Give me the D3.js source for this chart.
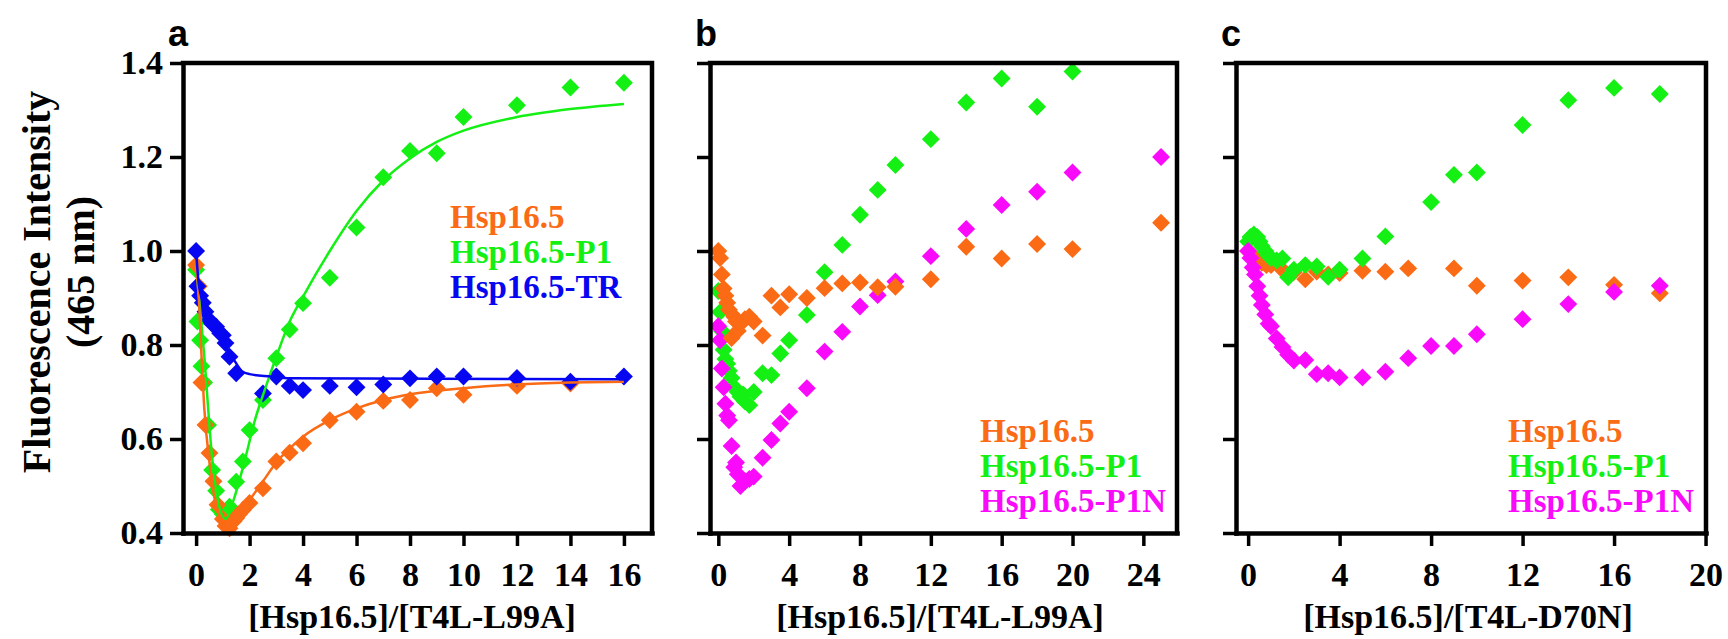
<!DOCTYPE html>
<html lang="en">
<head>
<meta charset="UTF-8">
<title>Hsp16.5 fluorescence titrations</title>
<script src="https://d3js.org/d3.v7.min.js"></script>
<style>
  body { margin: 0; background: #fff; }
  svg { display: block; }
</style>
</head>
<body>
<svg id="chart" width="1728" height="639"></svg>
<script>
// ---- data: [ratio, fluorescence] ----
const yTicks = [0.4, 0.6, 0.8, 1.0, 1.2, 1.4];
const xTicksA = [0, 2, 4, 6, 8, 10, 12, 14, 16];
const xTicksB = [0, 4, 8, 12, 16, 20, 24];
const xTicksC = [0, 4, 8, 12, 16, 20];

const panelLetters = ['a', 'b', 'c'];
const xTitles = ['[Hsp16.5]/[T4L-L99A]', '[Hsp16.5]/[T4L-L99A]', '[Hsp16.5]/[T4L-D70N]'];
const legendA = ['Hsp16.5', 'Hsp16.5-P1', 'Hsp16.5-TR'];
const legendBC = ['Hsp16.5', 'Hsp16.5-P1', 'Hsp16.5-P1N'];

// panel a
const aHsp = [[0,0.97],[0.1,0.925],[0.2,0.72],[0.35,0.63],[0.5,0.57],[0.65,0.51],[0.8,0.46],[1.0,0.43],[1.1,0.415],
  [1.25,0.41],[1.4,0.425],[1.5,0.432],[1.6,0.44],[1.75,0.449],[2,0.464],[2.5,0.495],[3,0.552],[3.5,0.571],[4,0.591],
  [5,0.64],[6,0.658],[7,0.681],[8,0.683],[9,0.708],[10,0.694],[12,0.713],[14,0.718]];
const aP1 = [[0,0.96],[0.05,0.85],[0.15,0.81],[0.2,0.755],[0.3,0.72],[0.45,0.63],[0.6,0.534],[0.75,0.49],[0.85,0.45],
  [1.0,0.44],[1.25,0.456],[1.5,0.509],[1.75,0.552],[2,0.619],[2.5,0.683],[3,0.772],[3.5,0.833],[4,0.889],[5,0.943],
  [6,1.05],[7,1.157],[8,1.213],[9,1.208],[10,1.285],[12,1.31],[14,1.348],[16,1.358]];
const aTR = [[0,1.0],[0.05,0.925],[0.15,0.905],[0.25,0.89],[0.35,0.871],[0.5,0.853],[0.6,0.845],[0.75,0.839],[0.9,0.825],
  [1.0,0.821],[1.1,0.804],[1.25,0.775],[1.5,0.74],[2.5,0.697],[3,0.733],[3.5,0.713],[4,0.704],[5,0.713],[6,0.71],
  [7,0.716],[8,0.729],[9,0.733],[10,0.733],[12,0.73],[14,0.722],[16,0.733]];
// fitted curves in panel a
const aHspFit = [[0,0.97],[0.1,0.9],[0.2,0.78],[0.3,0.67],[0.5,0.55],[0.7,0.47],[0.9,0.43],[1.1,0.415],[1.3,0.415],
  [1.6,0.44],[2,0.47],[2.5,0.51],[3,0.55],[3.5,0.58],[4,0.605],[5,0.64],[6,0.665],[7,0.683],[8,0.695],[10,0.708],
  [12,0.716],[14,0.72],[16,0.722]];
const aP1Fit = [[0,0.97],[0.3,0.78],[0.6,0.56],[0.9,0.45],[1.1,0.43],[1.4,0.47],[1.8,0.55],[2.2,0.64],[2.6,0.71],
  [3,0.775],[3.5,0.85],[4,0.903],[5,1.0],[6,1.085],[7,1.15],[8,1.197],[9,1.232],[10,1.256],[12,1.285],[14,1.302],[16,1.313]];
const aTRFit = [[0,1.0],[0.1,0.93],[0.3,0.885],[0.6,0.85],[1.0,0.805],[1.4,0.77],[1.7,0.745],[2.0,0.738],[2.8,0.733],
  [3.5,0.729],[16,0.727]];

// panel b
const bHsp = [[0,1.0],[0.1,0.985],[0.2,0.95],[0.3,0.92],[0.4,0.905],[0.5,0.89],[0.6,0.875],[0.75,0.815],[0.9,0.86],
  [1.0,0.85],[1.1,0.83],[1.25,0.845],[1.5,0.855],[1.75,0.86],[2,0.85],[2.5,0.82],[3,0.905],[3.5,0.88],[4,0.908],
  [5,0.9],[6,0.921],[7,0.931],[8,0.933],[9,0.923],[10,0.924],[12,0.94],[14,1.009],[16,0.984],[18,1.015],[20,1.004],[25,1.06]];
const bP1 = [[0,0.915],[0.1,0.87],[0.2,0.83],[0.3,0.79],[0.4,0.77],[0.5,0.76],[0.6,0.745],[0.75,0.73],[0.9,0.71],
  [1.0,0.705],[1.1,0.7],[1.25,0.69],[1.4,0.695],[1.5,0.68],[1.75,0.672],[2,0.7],[2.5,0.74],[3,0.736],[3.5,0.782],
  [4,0.81],[5,0.864],[6,0.955],[7,1.013],[8,1.077],[9,1.13],[10,1.183],[12,1.238],[14,1.316],[16,1.367],[18,1.307],[20,1.382]];
const bP1N = [[0,0.84],[0.1,0.81],[0.2,0.75],[0.3,0.71],[0.4,0.675],[0.5,0.65],[0.6,0.64],[0.75,0.585],[0.9,0.54],
  [1.0,0.55],[1.1,0.525],[1.25,0.5],[1.5,0.51],[1.75,0.515],[2,0.52],[2.5,0.56],[3,0.598],[3.5,0.633],[4,0.658],
  [5,0.708],[6,0.786],[7,0.828],[8,0.882],[9,0.906],[10,0.935],[12,0.989],[14,1.047],[16,1.098],[18,1.126],[20,1.167],[25,1.2]];

// panel c
const cHsp = [[0,1.0],[0.2,0.99],[0.4,0.98],[0.6,0.975],[0.8,0.97],[1.0,0.97],[1.5,0.96],[2,0.955],[2.5,0.94],[3,0.956],
  [3.5,0.95],[4,0.953],[5,0.958],[6,0.956],[7,0.963],[9,0.963],[10,0.926],[12,0.937],[14,0.944],[16,0.928],[18,0.91]];
const cP1 = [[0,1.02],[0.1,1.03],[0.25,1.035],[0.4,1.03],[0.5,1.02],[0.6,1.01],[0.75,1.0],[0.9,0.99],[1.0,0.985],
  [1.25,0.98],[1.5,0.984],[1.75,0.944],[2,0.96],[2.5,0.97],[3,0.967],[3.5,0.945],[4,0.96],[5,0.984],[6,1.031],
  [8,1.104],[9,1.162],[10,1.167],[12,1.268],[14,1.321],[16,1.347],[18,1.334]];
const cP1N = [[0,1.0],[0.1,0.985],[0.2,0.965],[0.3,0.95],[0.4,0.925],[0.5,0.905],[0.6,0.885],[0.75,0.865],[0.9,0.845],
  [1.0,0.84],[1.25,0.814],[1.5,0.796],[1.75,0.779],[2,0.767],[2.5,0.768],[3,0.738],[3.5,0.74],[4,0.731],[5,0.731],
  [6,0.743],[7,0.772],[8,0.798],[9,0.798],[10,0.823],[12,0.855],[14,0.887],[16,0.913],[18,0.926]];

// colours
const ORANGE = '#fb6a14', GREEN = '#14f014', BLUE = '#0606f0', MAGENTA = '#fa0afa';
const serif = "'Liberation Serif','Times New Roman',serif";
const sans = "'Liberation Sans',Arial,sans-serif";

// layout of the three panels
const plotTop = 63, plotBottom = 533;
const panels = [
  { left: 183, right: 652, xDom: [-0.49, 17.05], ticks: xTicksA, letterX: 168, titleX: 412, labels: true,
    legend: legendA, legendColors: [ORANGE, GREEN, BLUE], legX: 450, legY: 228,
    series: [[aP1, GREEN], [aHsp, ORANGE], [aTR, BLUE]],
    fits: [[aP1Fit, GREEN], [aHspFit, ORANGE], [aTRFit, BLUE]] },
  { left: 710, right: 1177, xDom: [-0.47, 25.9], ticks: xTicksB, letterX: 695, titleX: 940, labels: false,
    legend: legendBC, legendColors: [ORANGE, GREEN, MAGENTA], legX: 980, legY: 442,
    series: [[bP1, GREEN], [bP1N, MAGENTA], [bHsp, ORANGE]], fits: [] },
  { left: 1236, right: 1706, xDom: [-0.53, 20.02], ticks: xTicksC, letterX: 1221, titleX: 1468, labels: false,
    legend: legendBC, legendColors: [ORANGE, GREEN, MAGENTA], legX: 1508, legY: 442,
    series: [[cHsp, ORANGE], [cP1, GREEN], [cP1N, MAGENTA]], fits: [] }
];

const svg = d3.select('#chart');
const y = d3.scaleLinear().domain([0.4, 1.4]).range([plotBottom, plotTop]);
const diamond = d3.symbol(d3.symbolSquare, 160);

panels.forEach((p, i) => {
  const x = d3.scaleLinear().domain(p.xDom).range([p.left, p.right]);
  const g = svg.append('g');

  // data points
  p.series.forEach(([data, color]) => {
    g.append('g').selectAll('path')
      .data(data)
      .enter()
      .append('path')
      .attr('d', diamond)
      .attr('transform', d => `translate(${x(d[0])},${y(d[1])}) rotate(45)`)
      .attr('fill', color);
  });

  // fitted lines
  p.fits.forEach(([data, color]) => {
    g.append('path')
      .datum(data)
      .attr('fill', 'none')
      .attr('stroke', color)
      .attr('stroke-width', 2.5)
      .attr('d', d3.line().x(d => x(d[0])).y(d => y(d[1])).curve(d3.curveMonotoneX));
  });

  // bottom axis
  const gx = g.append('g')
    .attr('transform', `translate(0,${plotBottom})`)
    .call(d3.axisBottom(x).tickValues(p.ticks).tickSize(13).tickSizeOuter(0).tickPadding(16));
  // left axis
  const gy = g.append('g')
    .attr('transform', `translate(${p.left},0)`)
    .call(d3.axisLeft(y).tickValues(yTicks).tickSize(13).tickSizeOuter(0).tickPadding(7)
      .tickFormat(p.labels ? d3.format('.1f') : ''));

  [gx, gy].forEach(ax => {
    ax.attr('font-family', serif).attr('font-size', 34).attr('font-weight', 'bold');
    ax.select('.domain').attr('stroke-width', 4.5).attr('stroke-linecap', 'square');
    ax.selectAll('.tick line').attr('stroke-width', 3.5);
    ax.selectAll('.tick text').attr('fill', '#000');
  });

  // top and right border
  g.append('path')
    .attr('d', `M${p.left},${plotTop}H${p.right}V${plotBottom}`)
    .attr('fill', 'none')
    .attr('stroke', '#000')
    .attr('stroke-width', 4.5)
    .attr('stroke-linecap', 'square');

  // legend
  p.legend.forEach((t, k) => {
    g.append('text')
      .attr('x', p.legX)
      .attr('y', p.legY + k * 35)
      .attr('font-family', serif)
      .attr('font-weight', 'bold')
      .attr('font-size', 33)
      .attr('fill', p.legendColors[k])
      .text(t);
  });

  // panel letter
  g.append('text')
    .attr('x', p.letterX)
    .attr('y', 46)
    .attr('font-family', sans)
    .attr('font-weight', 'bold')
    .attr('font-size', 36)
    .text(panelLetters[i]);

  // x axis title
  g.append('text')
    .attr('x', p.titleX)
    .attr('y', 628)
    .attr('text-anchor', 'middle')
    .attr('font-family', serif)
    .attr('font-weight', 'bold')
    .attr('font-size', 34)
    .text(xTitles[i]);
});

// y axis title
svg.append('text')
  .attr('transform', 'translate(50,282) rotate(-90)')
  .attr('text-anchor', 'middle')
  .attr('font-family', serif)
  .attr('font-weight', 'bold')
  .attr('font-size', 40)
  .text('Fluorescence Intensity');
svg.append('text')
  .attr('transform', 'translate(94,272) rotate(-90)')
  .attr('text-anchor', 'middle')
  .attr('font-family', serif)
  .attr('font-weight', 'bold')
  .attr('font-size', 40)
  .text('(465 nm)');
</script>
</body>
</html>
